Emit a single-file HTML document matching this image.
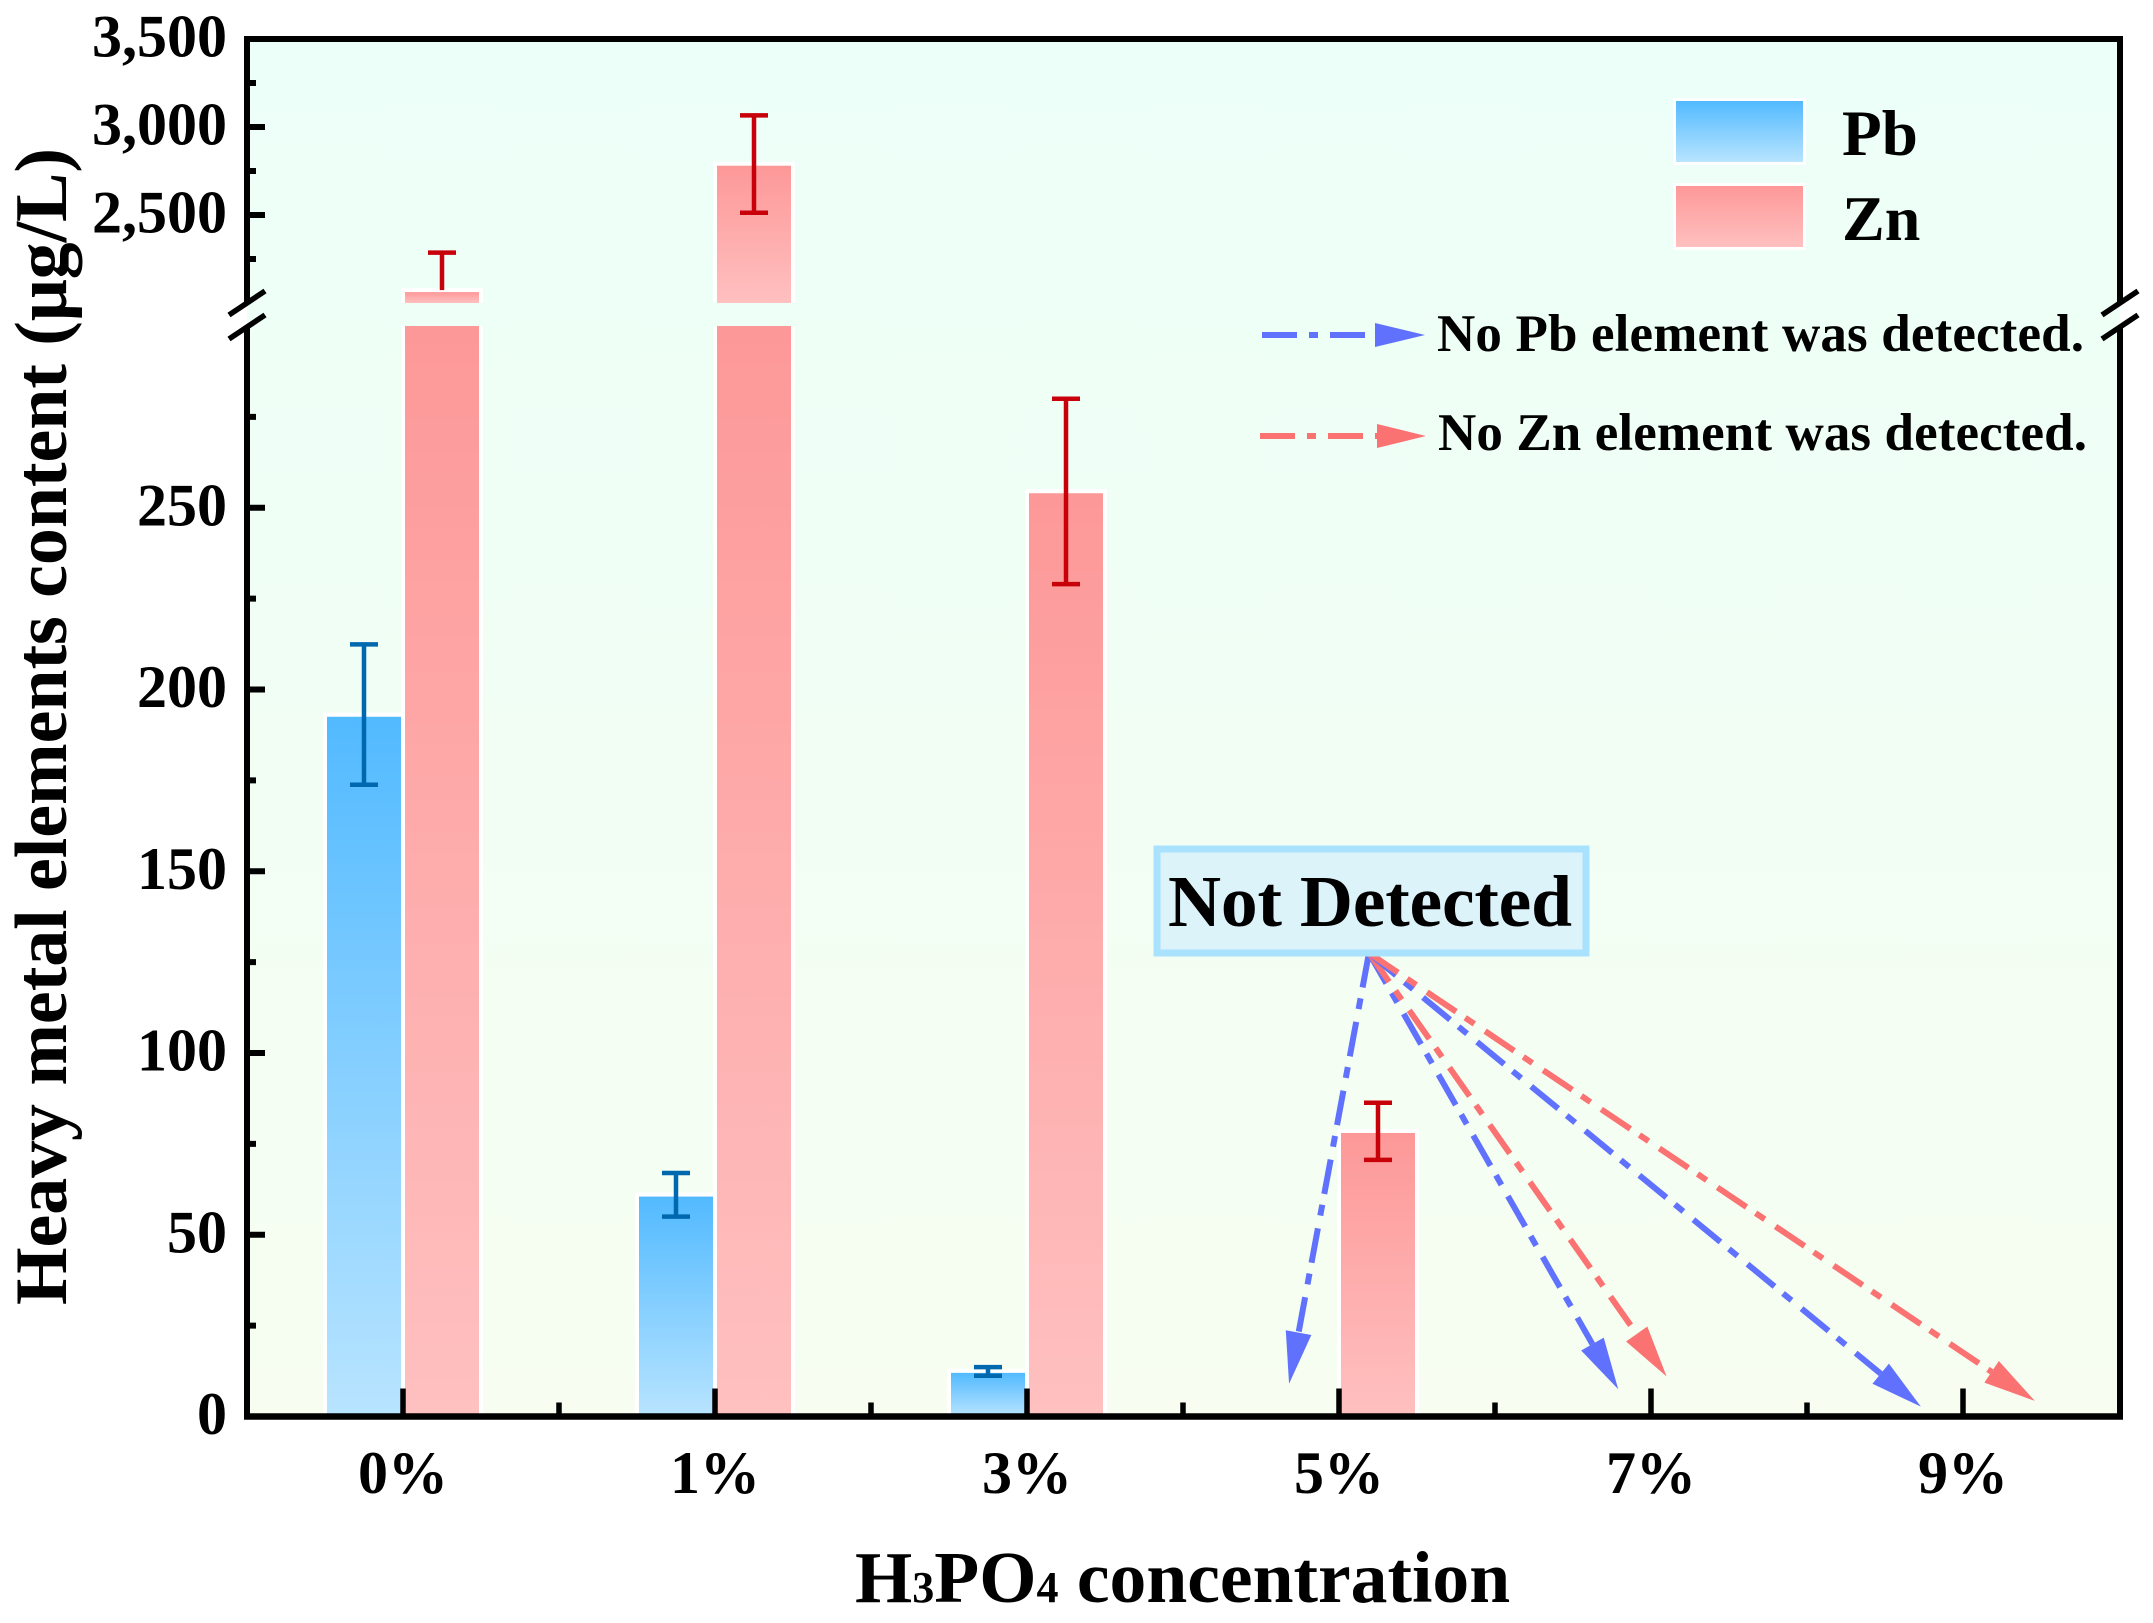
<!DOCTYPE html>
<html lang="en">
<head>
<meta charset="utf-8">
<title>Heavy metal elements content vs H3PO4 concentration</title>
<style>
  html, body { margin: 0; padding: 0; background: #fff; }
  svg { display: block; }
  text { font-family: "Liberation Serif", serif; font-weight: bold; fill: #000; }
</style>
</head>
<body>
<svg id="chart" xmlns="http://www.w3.org/2000/svg" width="2153" height="1623" viewBox="0 0 2153 1623">
  <defs>
    <linearGradient id="bg-grad" x1="0" y1="0" x2="0" y2="1">
      <stop offset="0" stop-color="#ecfff8"/>
      <stop offset="1" stop-color="#f7fef1"/>
    </linearGradient>
    <linearGradient id="pb-grad" x1="0" y1="0" x2="0" y2="1">
      <stop offset="0" stop-color="#52baff"/>
      <stop offset="1" stop-color="#b8e4ff"/>
    </linearGradient>
    <linearGradient id="zn-grad" x1="0" y1="0" x2="0" y2="1">
      <stop offset="0" stop-color="#fd9898"/>
      <stop offset="1" stop-color="#ffc0c0"/>
    </linearGradient>
  </defs>
  <rect x="247" y="39" width="1873" height="1377.5" fill="url(#bg-grad)"/>
  <g id="bars"></g>
  <g id="errors"></g>
  <g id="axes"></g>
  <g id="labels"></g>

  <text transform="translate(66 1305) rotate(-90)" font-size="74" textLength="1157" lengthAdjust="spacing">Heavy metal elements content (μg/L)</text>
  <text x="855" y="1602" font-size="73.6">H<tspan font-size="44">3</tspan>PO<tspan font-size="44">4</tspan> concentration</text>

  <g>
    <rect x="1673" y="98" width="133" height="67" fill="#fff"/>
    <rect x="1676" y="101" width="127" height="61" fill="url(#pb-grad)"/>
    <text x="1842" y="155" font-size="65">Pb</text>
    <rect x="1673" y="183" width="133" height="67" fill="#fff"/>
    <rect x="1676" y="186" width="127" height="61" fill="url(#zn-grad)"/>
    <text x="1842" y="240" font-size="64">Zn</text>
  </g>

  <g>
    <line x1="1262" y1="335" x2="1376" y2="335" stroke="#6072fd" stroke-width="6" stroke-dasharray="35 12 9 12"/>
    <polygon points="1375,323 1425,335 1375,347" fill="#6072fd"/>
    <text x="1437" y="351" font-size="53" textLength="647" lengthAdjust="spacing">No Pb element was detected.</text>
    <line x1="1260" y1="436" x2="1378" y2="436" stroke="#fa7272" stroke-width="6" stroke-dasharray="35 12 9 12"/>
    <polygon points="1377,424 1426,436 1377,448" fill="#fa7272"/>
    <text x="1438" y="450" font-size="53" textLength="649" lengthAdjust="spacing">No Zn element was detected.</text>
  </g>

  <g id="arrows"></g>

  <g>
    <rect x="1157" y="849" width="429" height="104" fill="#dcf3fa" stroke="#a9e2ff" stroke-width="7"/>
    <text x="1168" y="926" font-size="73.5" textLength="404" lengthAdjust="spacing">Not Detected</text>
  </g>
</svg>

<script>
const categories = ['0%', '1%', '3%', '5%', '7%', '9%'];
const pbValues = [192.5, 60.5, 12, null, null, null];
const pbErrHigh = [212.4, 67, 13.6, null, null, null];
const pbErrLow = [173.8, 55, 11.2, null, null, null];
const znValues = [2062, 2780, 254, 78, null, null];
const znErrHigh = [2286, 3066, 280, 86.3, null, null];
const znErrLow = [1838, 2513, 229, 70.6, null, null];
const lowerTicks = [0, 50, 100, 150, 200, 250];
const lowerTickLabels = ['0', '50', '100', '150', '200', '250'];
const lowerMinorTicks = [25, 75, 125, 175, 225, 275];
const upperTicks = [2500, 3000, 3500];
const upperTickLabels = ['2,500', '3,000', '3,500'];
const upperMinorTicks = [2250, 2750, 3250];
const arrowSeries = ['pb', 'pb', 'zn', 'pb', 'zn'];
const arrowTargetCat = [2.84, 3.895, 4.05, 4.865, 5.23];
const arrowTargetVal = [9, 7.5, 11, 2.7, 4.3];
const arrowOriginCat = 3.096;
const arrowOriginVal = 127.5;
const breakLow = 300;
const breakHigh = 2000;

const NS = 'http://www.w3.org/2000/svg';
const LEFT = 247, RIGHT = 2120, TOP = 39, BASE = 1416.5;
const BREAK_BOTTOM = 326, BREAK_TOP = 303;
const CAT0 = 403, CAT_STEP = 312, BAR_OFFSET = 39, BAR_W = 74;
const COLORS = { pb: '#6072fd', zn: '#fa7272' };

function xScale(i) { return CAT0 + i * CAT_STEP; }
function yScale(v) {
  if (v <= breakLow) return BASE - (v / breakLow) * (BASE - BREAK_BOTTOM);
  return BREAK_TOP - ((v - breakHigh) / (3500 - breakHigh)) * (BREAK_TOP - TOP);
}
function make(tag, attrs, parent) {
  const el = document.createElementNS(NS, tag);
  for (const k in attrs) el.setAttribute(k, attrs[k]);
  parent.appendChild(el);
  return el;
}

const barsG = document.getElementById('bars');
const errorsG = document.getElementById('errors');
const axesG = document.getElementById('axes');
const labelsG = document.getElementById('labels');
const arrowsG = document.getElementById('arrows');

function drawSegment(x, yTop, yBottom, grad, withTop, name) {
  const halo = make('rect', { x: x - BAR_W / 2 - 4, y: withTop ? yTop - 4 : yTop, width: BAR_W + 8, height: yBottom - yTop + (withTop ? 4 : 0), fill: '#fff' }, barsG);
  
  
  const r = make('rect', { x: x - BAR_W / 2, y: yTop, width: BAR_W, height: yBottom - yTop, fill: 'url(#' + grad + ')' }, barsG);
  
  
}

function drawBar(i, value, offset, grad, key) {
  if (value === null) return;
  const x = xScale(i) + offset;
  if (value > breakLow) {
    drawSegment(x, yScale(breakLow), BASE, grad, false, 'bar-' + key + '-' + i + '-lower');
    drawSegment(x, yScale(value), yScale(breakHigh), grad, true, 'bar-' + key + '-' + i + '-upper');
  } else {
    drawSegment(x, yScale(value), BASE, grad, true, 'bar-' + key + '-' + i);
  }
}

function drawError(i, value, hi, lo, offset, color, key) {
  if (value === null) return;
  const x = xScale(i) + offset;
  const hidden = value >= breakHigh && lo < breakHigh;
  const yHi = yScale(hi);
  const yLo = hidden ? yScale(value) - 2 : yScale(lo);
  const stem = make('line', { x1: x, x2: x, y1: yHi, y2: yLo, stroke: color, 'stroke-width': 4.5 }, errorsG);
  
  
  const capHi = make('line', { x1: x - 14, x2: x + 14, y1: yHi, y2: yHi, stroke: color, 'stroke-width': 4.5 }, errorsG);
  
  
  if (!hidden) {
    const capLo = make('line', { x1: x - 14, x2: x + 14, y1: yLo, y2: yLo, stroke: color, 'stroke-width': 4.5 }, errorsG);
    
    
  }
}

categories.forEach(function (c, i) {
  drawBar(i, pbValues[i], -BAR_OFFSET, 'pb-grad', 'pb');
  drawBar(i, znValues[i], BAR_OFFSET, 'zn-grad', 'zn');
  drawError(i, pbValues[i], pbErrHigh[i], pbErrLow[i], -BAR_OFFSET, '#0068ae', 'pb');
  drawError(i, znValues[i], znErrHigh[i], znErrLow[i], BAR_OFFSET, '#c70009', 'zn');
});

function axisLine(x1, y1, x2, y2, w, name) {
  const l = make('line', { x1: x1, y1: y1, x2: x2, y2: y2, stroke: '#000', 'stroke-width': w }, axesG);
  
  
}

axisLine(LEFT - 3, TOP, RIGHT + 3, TOP, 6, 'top-axis-line');
axisLine(LEFT - 3, BASE, RIGHT + 3, BASE, 6.5, 'x-axis-line');
axisLine(LEFT, TOP - 3, LEFT, BREAK_TOP, 6, 'y-axis-upper-line');
axisLine(LEFT, BREAK_BOTTOM, LEFT, BASE + 3, 6, 'y-axis-lower-line');
axisLine(RIGHT, TOP - 3, RIGHT, BREAK_TOP, 6, 'right-axis-upper-line');
axisLine(RIGHT, BREAK_BOTTOM, RIGHT, BASE + 3, 6, 'right-axis-lower-line');

[LEFT, RIGHT].forEach(function (ax, n) {
  const side = n === 0 ? 'left' : 'right';
  axisLine(ax - 18, 315, ax + 18, 291, 5.5, 'axis-break-upper-' + side);
  axisLine(ax - 18, 339, ax + 18, 315, 5.5, 'axis-break-lower-' + side);
});

function yTick(v, label, major) {
  const y = yScale(v);
  if (v !== 3500) axisLine(LEFT, y, LEFT + (major ? 18 : 9), y, 6, 'y-tick-' + v);
  if (major) {
    const t = make('text', { x: 227, y: y + 17.5, 'font-size': 60, 'text-anchor': 'end' }, labelsG);
    
    
    t.textContent = label;
  }
}
lowerTicks.forEach(function (v, i) { yTick(v, lowerTickLabels[i], true); });
lowerMinorTicks.forEach(function (v) { yTick(v, '', false); });
upperTicks.forEach(function (v, i) { yTick(v, upperTickLabels[i], true); });
upperMinorTicks.forEach(function (v) { yTick(v, '', false); });

categories.forEach(function (c, i) {
  const x = xScale(i);
  axisLine(x, BASE, x, BASE - 28, 5.5, 'x-tick-' + i);
  if (i < categories.length - 1) axisLine(x + CAT_STEP / 2, BASE, x + CAT_STEP / 2, BASE - 14, 5.5, 'x-minor-tick-' + i);
  const t = make('text', { x: x, y: 1493, 'font-size': 60, 'text-anchor': 'middle' }, labelsG);
  
  
  t.textContent = c;
});

arrowSeries.forEach(function (s, i) {
  const x0 = xScale(arrowOriginCat), y0 = yScale(arrowOriginVal);
  const x1 = xScale(arrowTargetCat[i]), y1 = yScale(arrowTargetVal[i]);
  const dx = x1 - x0, dy = y1 - y0, len = Math.hypot(dx, dy), ux = dx / len, uy = dy / len;
  const head = 52, half = 13;
  const bx = x1 - ux * head, by = y1 - uy * head;
  const line = make('line', { x1: x0, y1: y0, x2: bx, y2: by, stroke: COLORS[s], 'stroke-width': 6, 'stroke-dasharray': '35 11 11 13' }, arrowsG);
  
  
  const pts = [x1, y1, bx - uy * half, by + ux * half, bx + uy * half, by - ux * half];
  const tri = make('polygon', { points: pts.join(' '), fill: COLORS[s] }, arrowsG);
  
  
});
</script>
</body>
</html>
